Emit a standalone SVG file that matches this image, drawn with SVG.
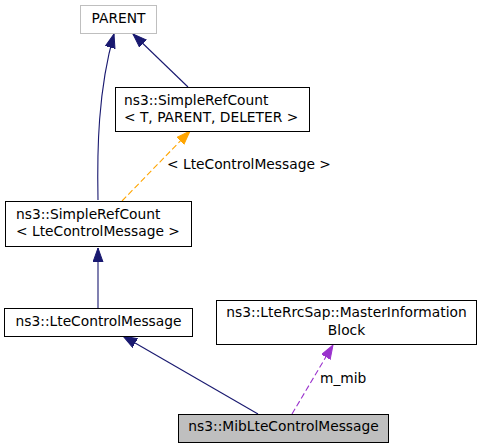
<svg xmlns="http://www.w3.org/2000/svg" width="483" height="448" viewBox="0 0 483 448">
<style>
text{font-family:"DejaVu Sans","Liberation Sans",sans-serif;font-size:13.8px;fill:#000}
.node rect{fill:#fff;stroke:#000;stroke-width:1}
.edge{fill:none;stroke-width:1.1}
.blue{stroke:#191970}
.orange{stroke:#ffa500;stroke-dasharray:6,3}
.purple{stroke:#9a32cd;stroke-dasharray:6,3}
.c{text-anchor:middle}
</style>
<defs>
<marker id="ab" markerUnits="userSpaceOnUse" markerWidth="15" markerHeight="11" refX="14" refY="5.5" orient="auto"><path d="M0,0.5 L14,5.5 L0,10.5 z" fill="#191970" stroke="#191970"/></marker>
<marker id="ao" markerUnits="userSpaceOnUse" markerWidth="15" markerHeight="11" refX="14" refY="5.5" orient="auto"><path d="M0,0.5 L14,5.5 L0,10.5 z" fill="#ffa500" stroke="#ffa500"/></marker>
<marker id="ap" markerUnits="userSpaceOnUse" markerWidth="15" markerHeight="11" refX="14" refY="5.5" orient="auto"><path d="M0,0.5 L14,5.5 L0,10.5 z" fill="#9a32cd" stroke="#9a32cd"/></marker>
</defs>
<rect width="483" height="448" fill="#fff"/>
<g id="connectors">
<path class="edge blue" d="M98,200 C97,150 98,90 114,34" marker-end="url(#ab)"/>
<path class="edge blue" d="M188,87 L133,34" marker-end="url(#ab)"/>
<path class="edge orange" d="M122,201 L190,131" marker-end="url(#ao)"/>
<text x="167" y="169">&lt; LteControlMessage &gt;</text>
<path class="edge blue" d="M98,308 L98,248" marker-end="url(#ab)"/>
<path class="edge blue" d="M258,414 L123,336" marker-end="url(#ab)"/>
<path class="edge purple" d="M292,414 L333,345" marker-end="url(#ap)"/>
<text x="320" y="383">m_mib</text>
</g>
<g id="parent" class="node">
<rect x="80.5" y="5.5" width="76" height="28" style="stroke:#bfbfbf"/>
<text x="118.5" y="23" class="c">PARENT</text>
</g>
<g id="simplerefcount_t" class="node">
<rect x="115.5" y="87.5" width="194" height="44"/>
<text x="124" y="104.5">ns3::SimpleRefCount</text>
<text x="124" y="121.5">&lt; T, PARENT, DELETER &gt;</text>
</g>
<g id="simplerefcount_lcm" class="node">
<rect x="5.5" y="201.5" width="186" height="45"/>
<text x="16" y="219">ns3::SimpleRefCount</text>
<text x="16" y="235.5">&lt; LteControlMessage &gt;</text>
</g>
<g id="ltecontrolmessage" class="node">
<rect x="4.5" y="308.5" width="188" height="28"/>
<text x="98.5" y="326" class="c">ns3::LteControlMessage</text>
</g>
<g id="masterinformationblock" class="node">
<rect x="216.5" y="300.5" width="260" height="44"/>
<text x="346.5" y="317" class="c">ns3::LteRrcSap::MasterInformation</text>
<text x="346.5" y="334.5" class="c">Block</text>
</g>
<g id="miblte" class="node">
<rect x="178.5" y="414.5" width="210" height="28" style="fill:#bfbfbf"/>
<text x="283.5" y="431" class="c">ns3::MibLteControlMessage</text>
</g>
</svg>
